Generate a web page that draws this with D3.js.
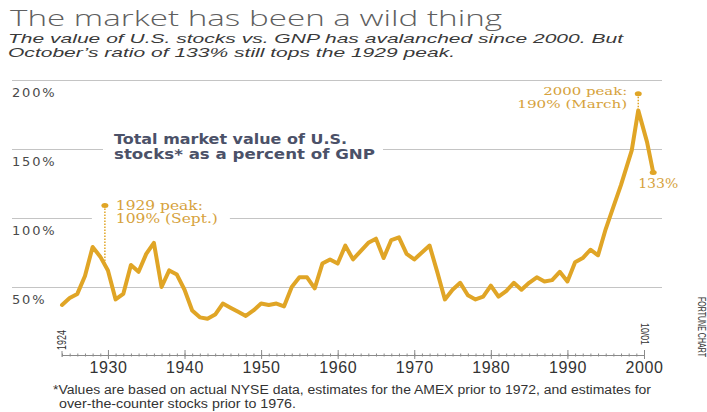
<!DOCTYPE html>
<html>
<head>
<meta charset="utf-8">
<script src="https://cdn.jsdelivr.net/npm/d3@7/dist/d3.min.js"></script>
<style>
  html, body { margin: 0; padding: 0; background: #fff; }
  svg { display: block; }
</style>
</head>
<body>
<svg id="chart" width="707" height="412"></svg>
<script>
// Total market value of U.S. stocks as a percent of GNP, 1924 – Oct. 2001
const dates = [
  1924, 1925, 1926, 1927, 1928, 1929, 1930, 1931, 1932, 1933,
  1934, 1935, 1936, 1937, 1938, 1939, 1940, 1941, 1942, 1943,
  1944, 1945, 1946, 1947, 1948, 1949, 1950, 1951, 1952, 1953,
  1954, 1955, 1956, 1957, 1958, 1959, 1960, 1961, 1962, 1963,
  1964, 1965, 1966, 1967, 1968, 1969, 1970, 1971, 1972, 1973,
  1974, 1975, 1976, 1977, 1978, 1979, 1980, 1981, 1982, 1983,
  1984, 1985, 1986, 1987, 1988, 1989, 1990, 1991, 1992, 1993,
  1994, 1995, 1996, 1997, 1998.4, 1999.25, 2000.4, 2001.2
];
const pctOfGNP = [
  37, 42, 45, 58, 79, 72, 62, 41, 45, 66,
  61, 74, 82, 50, 62, 59, 48, 33, 28, 27,
  30, 38, 35, 32, 29, 33, 38, 37, 38, 36,
  50, 57, 57, 49, 67, 70, 67, 80, 70, 76,
  82, 85, 71, 84, 86, 74, 70, 75, 80, 61,
  41, 48, 53, 44, 41, 43, 51, 43, 47, 53,
  48, 53, 57, 54, 55, 61, 54, 68, 71, 77,
  73, 92, 108, 124, 149, 178, 155, 133
];

// Callouts
const peak1929 = { date: 1929.6, value: 109, lines: ["1929 peak:", "109% (Sept.)"] };
const peak2000 = { date: 1999.25, value: 190, lines: ["2000 peak:", "190% (March)"] };
const latest   = { date: 2001.2, value: 133, label: "133%" };

// Axis ticks
const yTicks = [50, 100, 150, 200];
const xTicks = [1930, 1940, 1950, 1960, 1970, 1980, 1990, 2000];
const xMinor = d3.range(1924, 2001);
const xStartLabel = "1924";
const xEndLabel = "10/01";

const titleText = "The market has been a wild thing";
const subtitleLines = [
  "The value of U.S. stocks vs. GNP has avalanched since 2000. But",
  "October\u2019s ratio of 133% still tops the 1929 peak."
];
const captionLines = ["Total market value of U.S.", "stocks* as a percent of GNP"];
const footnoteLines = [
  "*Values are based on actual NYSE data, estimates for the AMEX prior to 1972, and estimates for",
  "over-the-counter stocks prior to 1976."
];
const creditText = "FORTUNE CHART";

const GOLD = "#e0a526";
const GOLD_TEXT = "#d6a23c";

const svg = d3.select("#chart");

const x = d3.scaleLinear().domain([1924, 2000]).range([62, 644]);
const y = d3.scaleLinear().domain([0, 200]).range([356, 80]);

// ---- Heading ----
svg.append("text")
  .attr("x", 10).attr("y", 26)
  .attr("textLength", 492).attr("lengthAdjust", "spacingAndGlyphs")
  .style("font-family", "'Open Sans', 'Liberation Sans', sans-serif")
  .style("font-weight", 300)
  .style("font-size", "22px")
  .attr("fill", "#5f5f5f")
  .text(titleText);

const subLens = [615, 447];
svg.selectAll("text.sub").data(subtitleLines).join("text")
  .attr("class", "sub")
  .attr("x", 8).attr("y", (d, i) => 43 + i * 14)
  .attr("textLength", (d, i) => subLens[i]).attr("lengthAdjust", "spacingAndGlyphs")
  .style("font-family", "'Liberation Sans', Arial, sans-serif")
  .style("font-style", "italic")
  .style("font-size", "13.5px")
  .attr("fill", "#3a3a3a")
  .text(d => d);

// ---- Gridlines and y labels ----
const gridG = svg.append("g").attr("transform", "translate(662,0)")
  .call(d3.axisLeft(y).tickValues(yTicks).tickSize(650).tickFormat(d => d + "%"));
gridG.select(".domain").remove();
gridG.selectAll(".tick line").attr("stroke", "#c4c4c4").attr("stroke-width", 1.2);
gridG.selectAll(".tick text")
  .attr("x", -650).attr("dy", null).attr("y", 16)
  .attr("text-anchor", "start")
  .style("font-family", "'DejaVu Sans', sans-serif")
  .style("font-size", "13px")
  .style("letter-spacing", "1.8px")
  .attr("fill", "#4a4a4a");

// ---- Caption, knocked out of the 150% gridline ----
const capG = svg.append("g");
const capLens = [233, 261];
capG.selectAll("text").data(captionLines).join("text")
  .attr("x", 114).attr("y", (d, i) => 144 + i * 15)
  .attr("textLength", (d, i) => capLens[i]).attr("lengthAdjust", "spacingAndGlyphs")
  .style("font-family", "'DejaVu Sans', sans-serif")
  .style("font-weight", "bold")
  .style("font-size", "14px")
  .attr("fill", "#4b5168")
  .text(d => d);
const capBox = capG.node().getBBox();
capG.insert("rect", ":first-child")
  .attr("x", capBox.x - 11).attr("y", capBox.y - 2)
  .attr("width", capBox.width + 19).attr("height", capBox.height + 4)
  .attr("fill", "#fff");

// ---- 1929 callout ----
const c29 = svg.append("g");
const c29Lens = [87, 102];
c29.selectAll("text").data(peak1929.lines).join("text")
  .attr("x", x(peak1929.date) + 11).attr("y", (d, i) => y(peak1929.value) + 4 + i * 13.5)
  .attr("textLength", (d, i) => c29Lens[i]).attr("lengthAdjust", "spacingAndGlyphs")
  .style("font-family", "'DejaVu Serif', serif")
  .style("font-size", "12px")
  .attr("fill", GOLD_TEXT)
  .text(d => d);
const c29Box = c29.node().getBBox();
c29.insert("rect", ":first-child")
  .attr("x", x(peak1929.date) - 13).attr("y", c29Box.y - 2)
  .attr("width", c29Box.x + c29Box.width + 12 - (x(peak1929.date) - 13))
  .attr("height", c29Box.height + 4)
  .attr("fill", "#fff");

// ---- 2000 callout ----
const c00 = svg.append("g");
const c00Lens = [84, 110];
c00.selectAll("text").data(peak2000.lines).join("text")
  .attr("x", (d, i) => x(peak2000.date) - 11 - c00Lens[i])
  .attr("y", (d, i) => y(peak2000.value) + 1 + i * 13)
  .attr("textLength", (d, i) => c00Lens[i]).attr("lengthAdjust", "spacingAndGlyphs")
  .style("font-family", "'DejaVu Serif', serif")
  .style("font-size", "11.5px")
  .attr("fill", GOLD_TEXT)
  .text(d => d);

// ---- x axis ----
const axisY = 355;
const minorG = svg.append("g").attr("transform", `translate(0,${axisY})`)
  .call(d3.axisBottom(x).tickValues(xMinor).tickSize(2).tickSizeOuter(0).tickFormat(""));
minorG.select(".domain").attr("stroke", "#8a8a8a").attr("stroke-width", 1);
minorG.selectAll(".tick line").attr("y1", -1.5).attr("y2", 1.5).attr("stroke", "#8a8a8a");

const majorG = svg.append("g").attr("transform", `translate(0,${axisY})`)
  .call(d3.axisBottom(x).tickValues(xTicks).tickSize(4).tickFormat(d3.format("d")));
majorG.select(".domain").remove();
majorG.selectAll(".tick line").attr("y1", -5).attr("y2", 4).attr("stroke", "#8a8a8a");
majorG.selectAll(".tick text")
  .attr("y", 18).attr("dy", null)
  .style("font-family", "'Liberation Sans', Arial, sans-serif")
  .style("font-size", "16px")
  .style("letter-spacing", "0.6px")
  .attr("fill", "#333");

// start / end marks
svg.append("line")
  .attr("x1", x(1924)).attr("x2", x(1924))
  .attr("y1", axisY - 4).attr("y2", axisY + 2)
  .attr("stroke", "#8a8a8a");
svg.append("text")
  .attr("transform", `translate(${x(1924) + 4},${axisY - 5}) rotate(-90)`)
  .attr("textLength", 20).attr("lengthAdjust", "spacingAndGlyphs")
  .style("font-family", "'Liberation Sans', Arial, sans-serif")
  .style("font-size", "12px")
  .attr("fill", "#333")
  .text(xStartLabel);
svg.append("text")
  .attr("transform", `translate(${x(2000) - 3},${axisY - 32}) rotate(90)`)
  .attr("textLength", 22).attr("lengthAdjust", "spacingAndGlyphs")
  .style("font-family", "'Liberation Sans', Arial, sans-serif")
  .style("font-size", "11px")
  .attr("fill", "#333")
  .text(xEndLabel);
svg.append("text")
  .attr("transform", "translate(698,297) rotate(90)")
  .attr("textLength", 60).attr("lengthAdjust", "spacingAndGlyphs")
  .style("font-family", "'Liberation Sans', Arial, sans-serif")
  .style("font-size", "10px")
  .attr("fill", "#333")
  .text(creditText);

// ---- Data line ----
const series = dates.map((d, i) => ({ date: d, value: pctOfGNP[i] }));
const valueAt = t => {
  const i = d3.bisector(d => d.date).right(series, t);
  const a = series[i - 1], b = series[i];
  return a.value + (b.value - a.value) * (t - a.date) / (b.date - a.date);
};

// Leaders from peak markers down to the line
svg.append("line")
  .attr("x1", x(peak1929.date)).attr("x2", x(peak1929.date))
  .attr("y1", y(peak1929.value)).attr("y2", y(valueAt(peak1929.date)) - 2)
  .attr("stroke", GOLD).attr("stroke-width", 1.5).attr("stroke-dasharray", "1.5,1.5");
svg.append("line")
  .attr("x1", x(peak2000.date)).attr("x2", x(peak2000.date))
  .attr("y1", y(peak2000.value)).attr("y2", y(valueAt(peak2000.date)) - 2)
  .attr("stroke", GOLD).attr("stroke-width", 1.5).attr("stroke-dasharray", "1.5,1.5");

svg.append("path")
  .datum(series)
  .attr("fill", "none")
  .attr("stroke", GOLD)
  .attr("stroke-width", 4)
  .attr("stroke-linejoin", "round")
  .attr("stroke-linecap", "round")
  .attr("d", d3.line().x(d => x(d.date)).y(d => y(d.value)));

// Markers
[peak1929, peak2000, latest].forEach(p => {
  svg.append("ellipse")
    .attr("cx", x(p.date)).attr("cy", y(p.value))
    .attr("rx", 3.5).attr("ry", 2.5)
    .attr("fill", GOLD);
});
svg.append("text")
  .attr("x", x(latest.date) - 15).attr("y", y(latest.value) + 16)
  .attr("textLength", 40).attr("lengthAdjust", "spacingAndGlyphs")
  .style("font-family", "'DejaVu Serif', serif")
  .style("font-size", "12px")
  .attr("fill", GOLD_TEXT)
  .text(latest.label);

// ---- Footnote ----
const footLens = [598, 237];
svg.selectAll("text.foot").data(footnoteLines).join("text")
  .attr("class", "foot")
  .attr("x", (d, i) => i === 0 ? 53 : 59)
  .attr("y", (d, i) => 394 + i * 14)
  .attr("textLength", (d, i) => footLens[i]).attr("lengthAdjust", "spacingAndGlyphs")
  .style("font-family", "'Liberation Sans', Arial, sans-serif")
  .style("font-size", "12.5px")
  .attr("fill", "#333")
  .text(d => d);
</script>
</body>
</html>
